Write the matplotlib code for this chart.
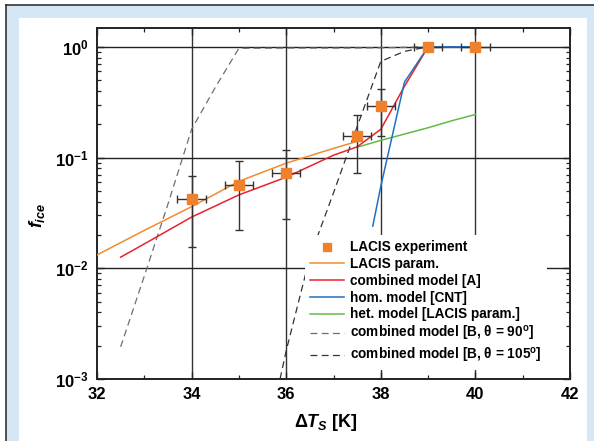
import matplotlib
matplotlib.use("Agg")
import matplotlib.pyplot as plt
from matplotlib.patches import Rectangle
from matplotlib.lines import Line2D
from matplotlib.ticker import FixedLocator, LogLocator, NullFormatter, FixedFormatter
import numpy as np

plt.rcParams['font.family'] = ['Liberation Sans', 'DejaVu Sans']
plt.rcParams['font.weight'] = 'bold'
plt.rcParams['mathtext.fontset'] = 'custom'
plt.rcParams['mathtext.rm'] = 'Liberation Sans:bold'
plt.rcParams['mathtext.it'] = 'Liberation Sans:bold:italic'
plt.rcParams['mathtext.bf'] = 'Liberation Sans:bold'

# ---- data ----
exp_x = [34.0, 35.0, 36.0, 37.5, 38.0, 39.0, 40.0]
exp_y = [0.042, 0.057, 0.072, 0.158, 0.29, 1.0, 1.0]
exp_ylo = [0.0156, 0.022, 0.028, 0.072, 0.155, 1.0, 1.0]
exp_yhi = [0.068, 0.093, 0.116, 0.24, 0.42, 1.0, 1.0]
exp_xerr = [0.3, 0.3, 0.3, 0.3, 0.3, 0.3, 0.3]

param_x = [32.0, 33.0, 34.0, 35.0, 36.0, 37.0, 37.5]
param_y = [0.0132, 0.022, 0.036, 0.061, 0.089, 0.121, 0.14]

combA_x = [32.5, 33.0, 34.0, 35.0, 36.0, 37.0, 37.5, 38.0, 38.5, 39.0, 40.0]
combA_y = [0.0126, 0.0166, 0.029, 0.046, 0.0665, 0.105, 0.125, 0.18, 0.44, 1.0, 1.0]

hom_x = [37.83, 38.0, 38.5, 39.0, 40.0]
hom_y = [0.024, 0.055, 0.48, 1.0, 1.0]

het_x = [37.5, 38.0, 38.5, 39.0, 39.5, 40.0]
het_y = [0.124, 0.143, 0.163, 0.186, 0.215, 0.245]

b90_x = [32.5, 33.0, 33.5, 34.0, 34.5, 35.0, 36.0, 37.0, 38.0, 39.0]
b90_y = [0.00195, 0.0085, 0.038, 0.18, 0.43, 0.97, 0.975, 0.975, 0.98, 1.0]

b105_x = [35.87, 36.0, 36.5, 37.0, 37.5, 38.0, 38.5, 39.0]
b105_y = [0.001, 0.0018, 0.0126, 0.048, 0.19, 0.74, 0.91, 1.0]

xticks = [32, 34, 36, 38, 40, 42]
yticks = [1e-3, 1e-2, 1e-1, 1e0]
ytick_labels = [r'$10^{-3}$', r'$10^{-2}$', r'$10^{-1}$', r'$10^{0}$']

legend_labels = ['LACIS experiment', 'LACIS param.', 'combined model [A]',
                 'hom. model [CNT]', 'het. model [LACIS param.]',
                 r'combined model [B, $\mathbf{\theta}$ = 90$^{\mathbf{o}}$]',
                 r'combined model [B, $\mathbf{\theta}$ = 105$^{\mathbf{o}}$]']

# ---- colours ----
c_orange_pt = '#f0812c'
c_orange = '#f28b2f'
c_red = '#e8232b'
c_blue = '#1f72c1'
c_green = '#62bb47'
c_g90 = '#6e6e6e'
c_g105 = '#333333'

W, H = 594, 441
fig = plt.figure(figsize=(W / 100, H / 100), dpi=100)
fig.patch.set_facecolor('white')

def px_rect(x0, y0, x1, y1, **kw):
    r = Rectangle((x0 / W, 1 - y1 / H), (x1 - x0) / W, (y1 - y0) / H,
                  transform=fig.transFigure, zorder=-10, **kw)
    fig.add_artist(r)

px_rect(6, 5, 594, 441, facecolor='#d5e6f4', edgecolor='none')
px_rect(19, 18, 587, 441, facecolor='white', edgecolor='none')
fig.add_artist(Line2D([6 / W, 1], [1 - 5 / H, 1 - 5 / H], transform=fig.transFigure,
                      color='#333333', lw=1.2, zorder=-5))
fig.add_artist(Line2D([6 / W, 6 / W], [0, 1 - 5 / H], transform=fig.transFigure,
                      color='#333333', lw=1.2, zorder=-5))

ax = fig.add_axes([97 / W, 1 - 379 / H, (570 - 97) / W, (379 - 28) / H])
ax.set_yscale('log')
ax.set_xlim(32, 42)
ax.set_ylim(1e-3, 1.48)

# grid
for gx in [34, 36, 38, 40]:
    ax.axvline(gx, color='#333333', lw=1.0, zorder=1)
for gy in [1e-2, 1e-1, 1e0]:
    ax.axhline(gy, color='#222222', lw=1.0, zorder=1)

dash = (0, (5.5, 3.5))
ax.plot(b90_x, b90_y, color=c_g90, lw=0.9, ls=dash, zorder=2)
ax.plot(b105_x, b105_y, color=c_g105, lw=0.9, ls=dash, zorder=2)
ax.plot(param_x, param_y, color=c_orange, lw=1.1, zorder=3)
ax.plot(het_x, het_y, color=c_green, lw=1.1, zorder=3)
ax.plot(combA_x, combA_y, color=c_red, lw=1.1, zorder=3)
ax.plot(hom_x, hom_y, color=c_blue, lw=1.1, zorder=3.5)

ey = np.array(exp_y)
yerr = np.array([ey - np.array(exp_ylo), np.array(exp_yhi) - ey])
ax.errorbar(exp_x, exp_y, xerr=exp_xerr, yerr=yerr, fmt='none', ecolor='#333333',
            elinewidth=1.0, capsize=3, capthick=1.0, zorder=4)
ax.plot(exp_x, exp_y, ls='none', marker='s', ms=7.5, color=c_orange_pt,
        mec=c_orange_pt, zorder=5)

# ticks
ax.xaxis.set_major_locator(FixedLocator(xticks))
ax.xaxis.set_minor_locator(FixedLocator([33, 35, 37, 39, 41]))
ax.set_xticklabels([str(t) for t in xticks])
ax.yaxis.set_major_locator(FixedLocator(yticks))
ax.yaxis.set_major_formatter(FixedFormatter(ytick_labels))
ax.yaxis.set_minor_locator(LogLocator(base=10, subs=np.arange(2, 10)))
ax.yaxis.set_minor_formatter(NullFormatter())
ax.tick_params(which='both', direction='in', top=True, right=True, color='#222222')
ax.tick_params(which='major', length=5, width=1.0, labelsize=12, pad=6)
ax.tick_params(which='minor', length=3, width=0.9)
for lab in ax.get_xticklabels() + ax.get_yticklabels():
    lab.set_fontweight('bold')

for s in ax.spines.values():
    s.set_color('#222222')
    s.set_linewidth(1.4)

ax.set_xlabel(r'$\Delta T_{S}$ [K]', fontsize=13, fontweight='bold')
ax.xaxis.set_label_coords(0.484, -0.095)
ax.set_ylabel(r'$f_{ice}$', fontsize=13)
ax.yaxis.set_label_coords(-0.105, 0.467)

handles = [
    Line2D([], [], ls='none', marker='s', ms=6, color=c_orange_pt),
    Line2D([], [], color=c_orange, lw=1.1),
    Line2D([], [], color=c_red, lw=1.1),
    Line2D([], [], color=c_blue, lw=1.1),
    Line2D([], [], color=c_green, lw=1.1),
    Line2D([], [], color=c_g90, lw=0.9, ls=dash),
    Line2D([], [], color=c_g105, lw=0.9, ls=dash),
]
leg = ax.legend(handles, legend_labels, loc='upper left',
                bbox_to_anchor=((305 - 97) / 473, (379 - 235) / 351),
                frameon=True, fancybox=False, edgecolor='none', facecolor='white',
                framealpha=1.0, prop={'weight': 'bold', 'size': 9.8},
                handlelength=2.5, handletextpad=0.37, labelspacing=0.2,
                borderpad=0.4, borderaxespad=0.0)
leg.set_zorder(6)

fig.savefig('out.png', dpi=100)
